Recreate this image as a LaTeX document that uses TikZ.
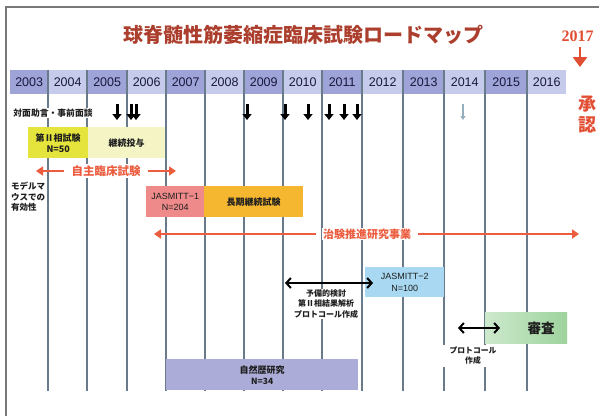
\documentclass[tikz,border=0pt]{standalone}
\usepackage{fontspec}
\setmainfont{Liberation Sans}
\newfontfamily\jp{Noto Sans CJK JP}
\newfontfamily\serifbf{Liberation Serif}
\usetikzlibrary{arrows.meta}
\definecolor{hdark}{RGB}{158,163,216}
\definecolor{hlight}{RGB}{198,203,236}
\definecolor{hdtext}{RGB}{25,25,60}
\definecolor{gridc}{RGB}{105,122,138}
\definecolor{framegray}{RGB}{120,120,120}
\definecolor{titlered}{RGB}{172,62,45}
\definecolor{arrred}{RGB}{236,92,62}
\definecolor{apred}{RGB}{226,78,52}
\definecolor{yel}{RGB}{228,228,60}
\definecolor{paleyel}{RGB}{244,244,196}
\definecolor{pink}{RGB}{238,138,138}
\definecolor{orng}{RGB}{245,183,48}
\definecolor{skyb}{RGB}{168,216,242}
\definecolor{lav}{RGB}{172,172,216}
\definecolor{grnL}{RGB}{205,233,204}
\definecolor{grnR}{RGB}{158,211,157}
\definecolor{txt}{RGB}{30,30,30}
\definecolor{lightarr}{RGB}{150,175,192}
\begin{document}
\begin{tikzpicture}[x=1pt,y=-1pt,
  yearcell/.style={rectangle, inner sep=0pt, minimum height=24pt, text=hdtext, font=\fontsize{12.5}{14}\selectfont},
  vline/.style={draw=gridc, line width=1.3pt},
  downarr/.style={line width=3pt, -{Triangle[length=6pt,width=9pt]}},
  redarr/.style={draw=arrred, line width=2pt, -{Triangle[length=7pt,width=9pt]}},
  blkarr/.style={line width=2pt, {Straight Barb[length=4.5pt,width=10pt]}-{Straight Barb[length=4.5pt,width=10pt]}},
  tbox/.style={rectangle, inner sep=0pt, align=center, text=txt, anchor=north west},
  jpb/.style={font=\jp\bfseries\fontsize{9}{11}\selectfont},
  lbl/.style={fill=white, inner sep=1pt, align=center, text=txt}
]
\useasboundingbox (0,0) rectangle (599,416);
\fill[white] (0,0) rectangle (599,416);
\draw[framegray, line width=1.3pt] (6,416) -- (6,7) -- (599,7);

% title
\node[text=titlered, font=\jp\bfseries\fontsize{20}{24}\selectfont] (title) at (303,35) {球脊髄性筋萎縮症臨床試験ロードマップ};
\node[text=apred, font=\serifbf\bfseries\fontsize{16}{18}\selectfont, anchor=west] (y2017) at (558,36) {2017};
\coordinate (k1) at (580,47);
\coordinate (k2) at (580,67);
\draw[draw=apred, line width=2.5pt, -{Triangle[length=10pt,width=14pt]}] (k1) -- (k2);
\node[text=apred, font=\jp\bfseries\fontsize{18}{20}\selectfont, anchor=west] (sho) at (575,104) {承};
\node[text=apred, font=\jp\bfseries\fontsize{18}{20}\selectfont, anchor=west] (nin) at (575,125) {認};

% header
\foreach \yr/\l/\r/\c in {2003/10/48/hdark,2004/48/87/hlight,2005/87/127/hdark,2006/127/166/hlight,2007/166/205/hdark,2008/205/244/hlight,2009/244/283/hdark,2010/283/322/hlight,2011/322/362/hdark,2012/362/403/hlight,2013/403/444/hdark,2014/444/485/hlight,2015/485/527/hdark,2016/527/566/hlight}
  \node[yearcell, fill=\c, minimum width={(\r-\l)*1pt}, anchor=north west] (y\yr) at (\l,70) {\yr};

% grid lines
\foreach \x in {48,87,127,166,205,244,283,322,362,403,444,485,527}
  \draw[vline] (\x,70) -- (\x,391);

% consultation row
\node[lbl, font=\jp\bfseries\fontsize{8.8}{10}\selectfont] (taimen) at (53,113) {対面助言・事前面談};
\foreach \x [count=\i] in {117,131,136,247,285,308,329,344,357}{
  \coordinate (ds\i) at (\x,104);
  \coordinate (de\i) at (\x,120);
  \draw[downarr] (ds\i) -- (de\i);
}
\coordinate (ls) at (463,104);
\coordinate (le) at (463,120);
\draw[draw=lightarr, line width=1.6pt, -{Triangle[length=4pt,width=5pt]}] (ls) -- (le);

% phase II
\node[tbox, jpb, fill=yel, minimum width=60pt, minimum height=31pt] (ph2) at (28,127) {第Ⅱ相試験\\N=50};
\node[tbox, jpb, fill=paleyel, minimum width=77pt, minimum height=31pt] (keizoku) at (88,127) {継続投与};

% investigator-initiated
\node[lbl, text=arrred, font=\jp\bfseries\fontsize{11.5}{13}\selectfont] (jishu) at (106,171) {自主臨床試験};
\coordinate (jl) at (36,171);
\coordinate (jr) at (176,171);
\draw[redarr, shorten <=6pt] (jishu.west) -- (jl);
\draw[redarr, shorten <=6pt] (jishu.east) -- (jr);

\node[anchor=north west, inner sep=0pt, align=left, text=txt, font=\jp\bfseries\fontsize{8.5}{10.5}\selectfont] (mouse) at (11,182) {モデルマ\\ウスでの\\有効性};

% JASMITT-1
\node[tbox, fill=pink, minimum width=58pt, minimum height=31pt, font=\fontsize{9}{11.5}\selectfont] (jas1) at (146,186) {JASMITT−1\\N=204};
\node[tbox, jpb, fill=orng, minimum width=99pt, minimum height=31pt] (choki) at (204,186) {長期継続試験};

% chiken suishin
\node[lbl, text=arrred, font=\jp\bfseries\fontsize{11}{13}\selectfont] (chiken) at (367,234) {治験推進研究事業};
\coordinate (cl) at (154,234);
\coordinate (cr) at (579,234);
\draw[redarr, shorten <=6pt] (chiken.west) -- (cl);
\draw[redarr, shorten <=6pt] (chiken.east) -- (cr);

% JASMITT-2
\node[tbox, fill=skyb, minimum width=79pt, minimum height=30pt, font=\fontsize{9}{11.5}\selectfont] (jas2) at (365,267) {JASMITT−2\\N=100};
\coordinate (pa) at (285,283);
\coordinate (pb) at (373,283);
\draw[blkarr] (pa) -- (pb);
\node[lbl, font=\jp\bfseries\fontsize{8}{10.5}\selectfont] (yobi) at (326,304) {予備的検討\\第Ⅱ相結果解析\\プロトコール作成};

% review
\node[tbox, left color=grnL, right color=grnR, minimum width=82pt, minimum height=31pt] (shinsa) at (485,312) {};
\node[text=txt, font=\jp\bfseries\fontsize{13.5}{15}\selectfont] (shinsatxt) at (541,328) {審査};
\coordinate (qa) at (458,328);
\coordinate (qb) at (500,328);
\draw[blkarr] (qa) -- (qb);
\node[lbl, minimum width=62pt, minimum height=22pt, font=\jp\bfseries\fontsize{7.8}{10}\selectfont] (proto) at (473,356) {プロトコール\\作成};

% natural history
\node[tbox, jpb, fill=lav, minimum width=192pt, minimum height=31pt] (shizen) at (166,359) {自然歴研究\\{\fontsize{8.5}{10}\selectfont N=34}};
\end{tikzpicture}
\end{document}
